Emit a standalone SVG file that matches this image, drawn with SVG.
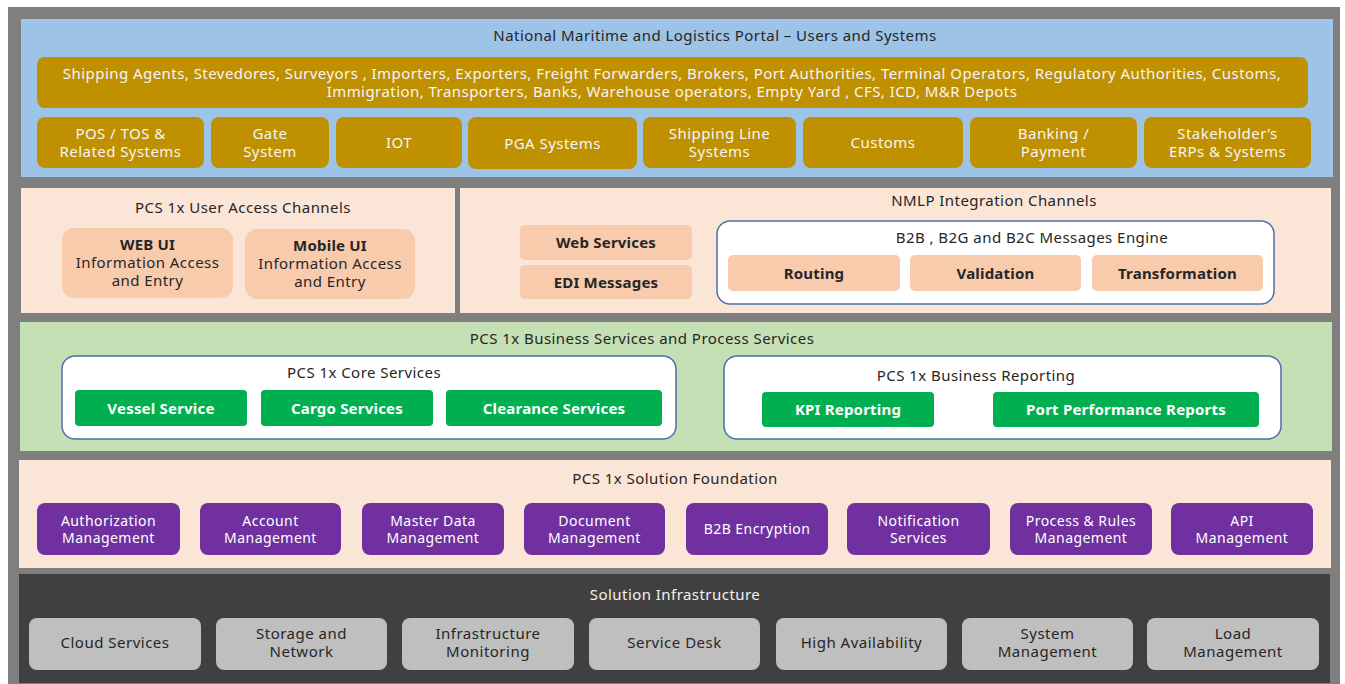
<svg xmlns="http://www.w3.org/2000/svg" width="1345" height="684" viewBox="0 0 1345 684">
<style>
text{font-family:"Noto Sans","Open Sans","Liberation Sans",sans-serif;text-anchor:middle;dominant-baseline:central;}
.t{font-size:15px;fill:#262626;letter-spacing:0.45px;}
.tw{font-size:15px;fill:#F2F2F2;letter-spacing:0.45px;}
.gold{fill:#BF9000;}
.gt{font-size:15px;fill:#F5F5F5;letter-spacing:0.45px;}
.sal{fill:#F8CBAD;}
.bt{font-size:15px;fill:#262626;font-weight:bold;letter-spacing:0.2px;}
.gr{fill:#00B050;}
.gbt{font-size:15px;fill:#FFFFFF;font-weight:bold;letter-spacing:0.2px;}
.pur{fill:#7030A0;}
.pt{font-size:14px;fill:#FFFFFF;letter-spacing:0.45px;}
.gy{fill:#BFBFBF;}
.gyt{font-size:15px;fill:#262626;letter-spacing:0.5px;}
.cont{fill:#FFFFFF;stroke:#4F6FA8;stroke-width:1.5;}
</style>
<rect x="0" y="0" width="1345" height="684" fill="#FFFFFF"/>
<rect x="8" y="7" width="1332" height="677" fill="#7F7F7F"/>

<g id="band-portal">
<rect x="21" y="19" width="1312" height="158" fill="#9DC3E6"/>
<text class="t" x="715" y="35">National Maritime and Logistics Portal – Users and Systems</text>
</g>
<g id="users">
<rect class="gold" x="37" y="57" width="1271" height="51" rx="8"/>
<text class="gt" x="672" y="73">Shipping Agents, Stevedores, Surveyors , Importers, Exporters, Freight Forwarders, Brokers, Port Authorities, Terminal Operators, Regulatory Authorities, Customs,</text>
<text class="gt" x="672" y="91">Immigration, Transporters, Banks, Warehouse operators, Empty Yard , CFS, ICD, M&amp;R Depots</text>
</g>
<g id="pos-tos"><rect class="gold" x="37" y="117" width="167" height="51" rx="8"/><text class="gt" x="120.5" y="133">POS / TOS &amp;</text><text class="gt" x="120.5" y="151">Related Systems</text></g>
<g id="gate"><rect class="gold" x="211" y="117" width="118" height="51" rx="8"/><text class="gt" x="270" y="133">Gate</text><text class="gt" x="270" y="151">System</text></g>
<g id="iot"><rect class="gold" x="336" y="117" width="126" height="51" rx="8"/><text class="gt" x="399" y="142">IOT</text></g>
<g id="pga"><rect class="gold" x="468" y="117" width="169" height="52" rx="8"/><text class="gt" x="552.5" y="143">PGA Systems</text></g>
<g id="shipping-line"><rect class="gold" x="643" y="117" width="153" height="51" rx="8"/><text class="gt" x="719.5" y="133">Shipping Line</text><text class="gt" x="719.5" y="151">Systems</text></g>
<g id="customs"><rect class="gold" x="803" y="117" width="160" height="51" rx="8"/><text class="gt" x="883" y="142">Customs</text></g>
<g id="banking"><rect class="gold" x="970" y="117" width="167" height="51" rx="8"/><text class="gt" x="1053.5" y="133">Banking /</text><text class="gt" x="1053.5" y="151">Payment</text></g>
<g id="erps"><rect class="gold" x="1144" y="117" width="167" height="51" rx="8"/><text class="gt" x="1227.5" y="133">Stakeholder’s</text><text class="gt" x="1227.5" y="151">ERPs &amp; Systems</text></g>

<g id="user-access">
<rect x="21" y="188" width="434" height="125" fill="#FBE5D6"/>
<text class="t" x="243" y="207">PCS 1x User Access Channels</text>
</g>
<g id="web-ui"><rect class="sal" x="62" y="228" width="171" height="70" rx="12"/><text class="bt" x="147.5" y="244">WEB UI</text><text class="t" x="147.5" y="262">Information Access</text><text class="t" x="147.5" y="280">and Entry</text></g>
<g id="mobile-ui"><rect class="sal" x="245" y="229" width="170" height="70" rx="12"/><text class="bt" x="330" y="245">Mobile UI</text><text class="t" x="330" y="263">Information Access</text><text class="t" x="330" y="281">and Entry</text></g>

<g id="integration">
<rect x="460" y="188" width="871" height="125" fill="#FBE5D6"/>
<text class="t" x="994" y="200">NMLP Integration Channels</text>
</g>
<g id="web-services"><rect class="sal" x="520" y="225" width="172" height="35" rx="5"/><text class="bt" x="606" y="242">Web Services</text></g>
<g id="edi"><rect class="sal" x="520" y="265" width="172" height="34" rx="5"/><text class="bt" x="606" y="282">EDI Messages</text></g>
<g id="engine">
<rect class="cont" x="717" y="221" width="557" height="83" rx="13"/>
<text class="t" x="1032" y="237">B2B , B2G and B2C Messages Engine</text>
</g>
<g id="routing"><rect class="sal" x="728" y="255" width="172" height="36" rx="5"/><text class="bt" x="814" y="273">Routing</text></g>
<g id="validation"><rect class="sal" x="910" y="255" width="171" height="36" rx="5"/><text class="bt" x="995.5" y="273">Validation</text></g>
<g id="transformation"><rect class="sal" x="1092" y="255" width="171" height="36" rx="5"/><text class="bt" x="1177.5" y="273">Transformation</text></g>

<g id="business">
<rect x="20" y="322" width="1312" height="129" fill="#C5E0B4"/>
<text class="t" x="642" y="338">PCS 1x Business Services and Process Services</text>
</g>
<g id="core">
<rect class="cont" x="62" y="356" width="614" height="83" rx="13"/>
<text class="t" x="364" y="372">PCS 1x Core Services</text>
</g>
<g id="vessel"><rect class="gr" x="75" y="390" width="172" height="36" rx="4"/><text class="gbt" x="161" y="408">Vessel Service</text></g>
<g id="cargo"><rect class="gr" x="261" y="390" width="172" height="36" rx="4"/><text class="gbt" x="347" y="408">Cargo Services</text></g>
<g id="clearance"><rect class="gr" x="446" y="390" width="216" height="36" rx="4"/><text class="gbt" x="554" y="408">Clearance Services</text></g>
<g id="reporting">
<rect class="cont" x="724" y="356" width="557" height="83" rx="13"/>
<text class="t" x="976" y="375">PCS 1x Business Reporting</text>
</g>
<g id="kpi"><rect class="gr" x="762" y="392" width="172" height="35" rx="4"/><text class="gbt" x="848" y="409">KPI Reporting</text></g>
<g id="port-perf"><rect class="gr" x="993" y="392" width="266" height="35" rx="4"/><text class="gbt" x="1126" y="409">Port Performance Reports</text></g>

<g id="foundation">
<rect x="19" y="460" width="1312" height="108" fill="#FBE5D6"/>
<text class="t" x="675" y="478">PCS 1x Solution Foundation</text>
</g>
<g id="authorization"><rect class="pur" x="37" y="503" width="143" height="52" rx="8"/><text class="pt" x="108.5" y="520">Authorization</text><text class="pt" x="108.5" y="537">Management</text></g>
<g id="account"><rect class="pur" x="200" y="503" width="141" height="52" rx="8"/><text class="pt" x="270.5" y="520">Account</text><text class="pt" x="270.5" y="537">Management</text></g>
<g id="master-data"><rect class="pur" x="362" y="503" width="142" height="52" rx="8"/><text class="pt" x="433" y="520">Master Data</text><text class="pt" x="433" y="537">Management</text></g>
<g id="document"><rect class="pur" x="524" y="503" width="141" height="52" rx="8"/><text class="pt" x="594.5" y="520">Document</text><text class="pt" x="594.5" y="537">Management</text></g>
<g id="b2b-encryption"><rect class="pur" x="686" y="503" width="142" height="52" rx="8"/><text class="pt" x="757" y="528">B2B Encryption</text></g>
<g id="notification"><rect class="pur" x="847" y="503" width="143" height="52" rx="8"/><text class="pt" x="918.5" y="520">Notification</text><text class="pt" x="918.5" y="537">Services</text></g>
<g id="process-rules"><rect class="pur" x="1010" y="503" width="142" height="52" rx="8"/><text class="pt" x="1081" y="520">Process &amp; Rules</text><text class="pt" x="1081" y="537">Management</text></g>
<g id="api"><rect class="pur" x="1171" y="503" width="142" height="52" rx="8"/><text class="pt" x="1242" y="520">API</text><text class="pt" x="1242" y="537">Management</text></g>

<g id="infrastructure">
<rect x="19" y="574" width="1311" height="109" fill="#404040"/>
<text class="tw" x="675" y="594">Solution Infrastructure</text>
</g>
<g id="cloud"><rect class="gy" x="29" y="618" width="172" height="52" rx="8"/><text class="gyt" x="115" y="642">Cloud Services</text></g>
<g id="storage"><rect class="gy" x="216" y="618" width="171" height="52" rx="8"/><text class="gyt" x="301.5" y="633">Storage and</text><text class="gyt" x="301.5" y="651">Network</text></g>
<g id="monitoring"><rect class="gy" x="402" y="618" width="172" height="52" rx="8"/><text class="gyt" x="488" y="633">Infrastructure</text><text class="gyt" x="488" y="651">Monitoring</text></g>
<g id="service-desk"><rect class="gy" x="589" y="618" width="171" height="52" rx="8"/><text class="gyt" x="674.5" y="642">Service Desk</text></g>
<g id="high-availability"><rect class="gy" x="776" y="618" width="171" height="52" rx="8"/><text class="gyt" x="861.5" y="642">High Availability</text></g>
<g id="system-mgmt"><rect class="gy" x="962" y="618" width="171" height="52" rx="8"/><text class="gyt" x="1047.5" y="633">System</text><text class="gyt" x="1047.5" y="651">Management</text></g>
<g id="load-mgmt"><rect class="gy" x="1147" y="618" width="172" height="52" rx="8"/><text class="gyt" x="1233" y="633">Load</text><text class="gyt" x="1233" y="651">Management</text></g>

<g id="connectors"></g>
</svg>
